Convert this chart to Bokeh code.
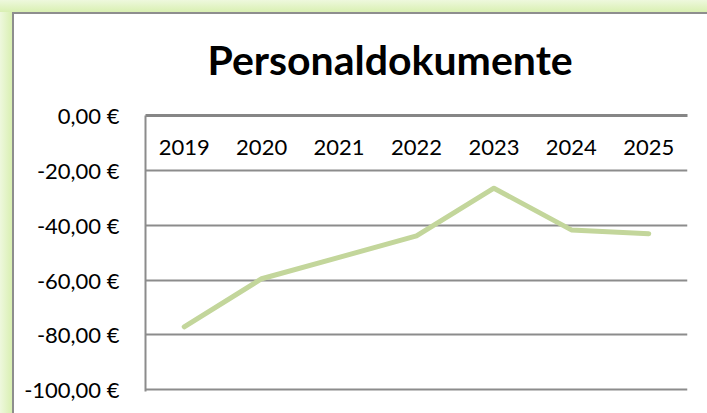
from bokeh.plotting import figure
from bokeh.models import FixedTicker, Range1d, FactorRange, InlineStyleSheet
from bokeh.embed import file_html
from bokeh.resources import INLINE

# ---- data ----
years = ["2019", "2020", "2021", "2022", "2023", "2024", "2025"]
values = [-77.0, -59.5, -51.7, -43.9, -26.5, -41.7, -43.1]
y_ticks = [-100, -80, -60, -40, -20, 0]
y_tick_labels = ["-100,00 €", "-80,00 €", "-60,00 €", "-40,00 €", "-20,00 €", "0,00 €"]
title_text = "Personaldokumente"

FONT = "Lato"
GRID = "#8c8c8c"

p = figure(
    x_range=FactorRange(*years),
    y_range=Range1d(-100.6, 0),
    width=707, height=413,
    output_backend="svg", toolbar_location=None,
    x_axis_location="above",
    min_border_left=145, min_border_right=20,
    min_border_top=115, min_border_bottom=22,
)
p.background_fill_color = "white"
p.border_fill_alpha = 0
p.outline_line_color = None
p.stylesheets = [InlineStyleSheet(css="""
:host(.bk-Figure) {
  background:
    linear-gradient(#8e8e8e, #8e8e8e) 12px 12px / 100% 2px no-repeat,
    linear-gradient(#8e8e8e, #8e8e8e) 12px 12px / 2px 100% no-repeat,
    linear-gradient(to bottom, #eef8dd, #d9f0b2) 0 0 / 100% 12px no-repeat,
    linear-gradient(to right, #eef8dd, #d9f0b2) 0 0 / 12px 100% no-repeat,
    white;
}
""")]

# title
p.title.text = title_text
p.title.align = "left"
p.title.offset = 62
p.title.standoff = 64
p.title.text_font = FONT
p.title.text_font_size = "41px"
p.title.text_font_style = "bold"
p.title.text_color = "black"

# grid
p.xgrid.grid_line_color = None
p.ygrid.ticker = FixedTicker(ticks=y_ticks)
p.ygrid.grid_line_color = GRID
p.ygrid.grid_line_width = 2

# y axis
p.yaxis.ticker = FixedTicker(ticks=y_ticks)
p.yaxis.major_label_overrides = {t: l for t, l in zip(y_ticks, y_tick_labels)}
p.yaxis.axis_line_color = GRID
p.yaxis.axis_line_width = 2
p.yaxis.major_tick_line_color = None
p.yaxis.minor_tick_line_color = None
p.yaxis.major_tick_in = 0
p.yaxis.major_tick_out = 0
p.yaxis.major_label_standoff = 26
p.yaxis.major_label_text_font = FONT
p.yaxis.major_label_text_font_size = "22px"
p.yaxis.major_label_text_color = "black"

# x axis (category axis crossing at 0, labels below the line)
p.xaxis.axis_line_color = "#868686"
p.xaxis.axis_line_width = 3
p.xaxis.major_tick_line_color = None
p.xaxis.major_tick_in = 0
p.xaxis.major_tick_out = 0
p.xaxis.major_label_standoff = -39
p.xaxis.major_label_text_font = FONT
p.xaxis.major_label_text_font_size = "22px"
p.xaxis.major_label_text_color = "black"

p.line(years, values, line_color="#c3d69b", line_width=5,
       line_cap="round", line_join="round")

open("out.html", "w").write(file_html(p, INLINE))
